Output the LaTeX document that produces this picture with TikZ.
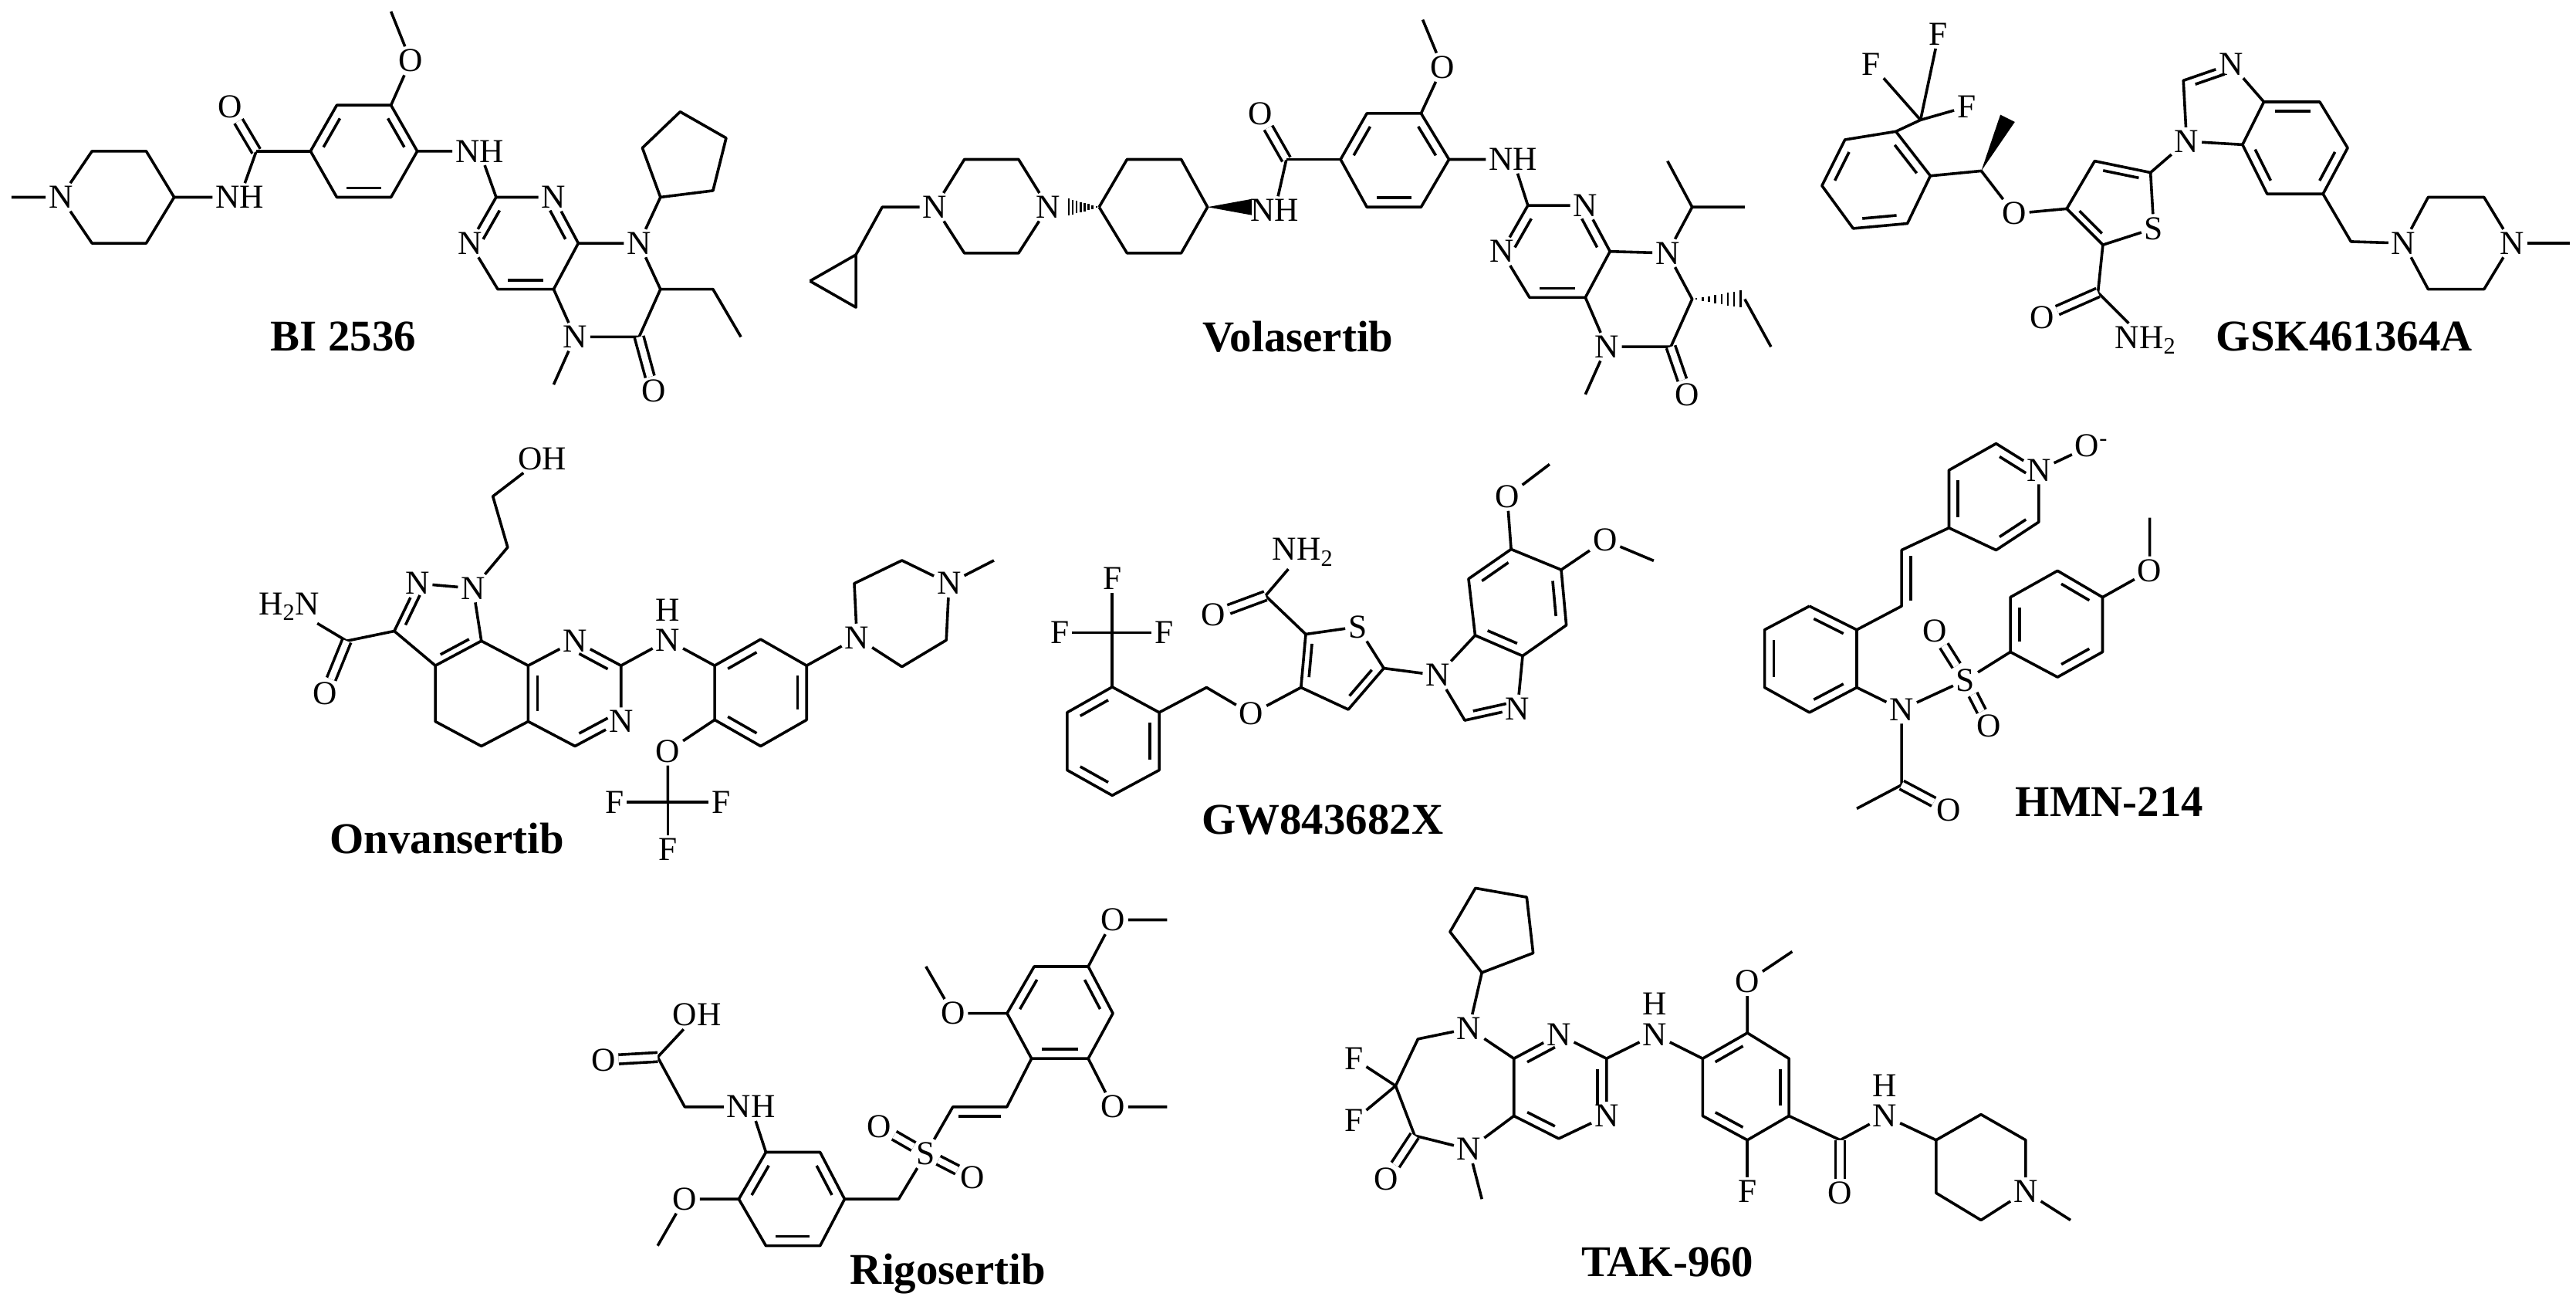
\documentclass[tikz,border=0pt]{standalone}
\usepackage{fontspec}
\setmainfont{Liberation Serif}
\usetikzlibrary{calc}
\newcommand\C[2]{\coordinate (#1) at (#2);}
\newcommand\A[3]{\node[atom] (#1) at (#2) {#3};}
\newcommand\ib[3]{\draw[shorten <=4pt,shorten >=4pt] ($(#1)!0.2!(#3)$)--($(#2)!0.2!(#3)$);}
\newcommand\dd[2]{\draw[double,double distance=5.5pt] (#1)--(#2);}
\newcommand\sd[2]{\draw[shorten <=5pt,shorten >=5pt] ($(#1)!8pt!90:(#2)$)--($(#2)!8pt!-90:(#1)$);}
\newcommand\hsh[2]{\foreach \t in {0.08,0.2,...,0.95}{\draw[line width=1.6pt] ($($(#1)!\t!(#2)$)!{\t*8pt}!90:(#2)$)--($($(#1)!\t!(#2)$)!{\t*8pt}!-90:(#2)$);}}
\newcommand\wdg[2]{\fill (#1)--($(#2)!7pt!90:(#1)$)--($(#2)!7pt!-90:(#1)$)--cycle;}
\begin{document}
\begin{tikzpicture}[x=0.5mm,y=-0.5mm,line width=2.4pt,line join=round,
 atom/.style={font=\fontsize{29}{29}\selectfont,inner sep=1.5pt},
 ttl/.style={font=\fontsize{38}{38}\selectfont\bfseries}]
\useasboundingbox (0,0) rectangle (1568,795);
% ===== BI 2536 =====
\C{c1a}{7,120}\A{a1}{37,120}{N}\C{a2}{56,92}\C{a3}{89,92}\C{a4}{106,120}\C{a5}{89,148}\C{a6}{56,148}
\A{a7}{146,120}{NH}\C{a8}{156,92}\A{a9}{140,65}{O}
\C{b1}{189,92}\C{b2}{205,64}\C{b3}{238,64}\C{b4}{254,92}\C{b5}{238,120}\C{b6}{205,120}\C{bc}{221.5,92}
\A{b7}{250,37}{O}\C{b8}{238,7}\A{b9}{292,92}{NH}
\C{p1}{302,120}\A{p2}{337,120}{N}\C{p3}{352,148}\C{p4}{337,176}\C{p5}{303,176}\A{p6}{286,148}{N}\C{pc}{319.5,148}
\A{p7}{389,148}{N}\C{p8}{402,176}\C{p9}{389,205}\A{p10}{398,238}{O}\A{p11}{350,205}{N}\C{p12}{337,234}
\C{p13}{434,176}\C{p14}{451,205}
\C{q1}{402,120}\C{q2}{434,116}\C{q3}{442,84}\C{q4}{414,68}\C{q5}{391,90}
\draw (c1a)--(a1)--(a2)--(a3)--(a4)--(a5)--(a6)--(a1);
\draw (a4)--(a7)--(a8); \dd{a8}{a9} \draw (a8)--(b1);
\draw (b1)--(b2)--(b3)--(b4)--(b5)--(b6)--(b1); \ib{b1}{b2}{bc}\ib{b3}{b4}{bc}\ib{b5}{b6}{bc}
\draw (b3)--(b7)--(b8); \draw (b4)--(b9)--(p1);
\draw (p1)--(p2)--(p3)--(p4)--(p5)--(p6)--(p1); \ib{p1}{p6}{pc}\ib{p2}{p3}{pc}\ib{p4}{p5}{pc}
\draw (p3)--(p7)--(q1)--(q2)--(q3)--(q4)--(q5)--(q1);
\draw (p7)--(p8)--(p13)--(p14); \draw (p8)--(p9)--(p11)--(p4); \dd{p9}{p10} \draw (p11)--(p12);
\node[ttl] (t1) at (209,205) {BI 2536};
% ===== Volasertib =====
\C{r1}{493,171}\C{r2}{521,155}\C{r3}{521,187}\C{r4}{537,126}
\A{v1}{569,126}{N}\C{v2}{587,97}\C{v3}{620,97}\A{v4}{638,126}{N}\C{v5}{620,154}\C{v6}{587,154}\C{v4e}{649,126}
\C{w1}{669,126}\C{w2}{686,97}\C{w3}{719,97}\C{w4}{735,126}\C{w5}{719,154}\C{w6}{686,154}
\A{w7}{776,128}{NH}\C{w7e}{762,126}\C{w8}{783,97}\A{w9}{767,69}{O}
\C{x1}{816,97}\C{x2}{832,69}\C{x3}{865,69}\C{x4}{882,97}\C{x5}{865,126}\C{x6}{832,126}\C{xc}{849,97}
\A{x7}{878,41}{O}\C{x8}{866,12}\A{x9}{921,97}{NH}
\C{vp1}{930,125}\A{vp2}{965,125}{N}\C{vp3}{980,153}\C{vp4}{965,181}\C{vp5}{931,181}\A{vp6}{914,153}{N}\C{vpc}{947.5,153}
\A{vn8}{1015,154}{N}\C{vi1}{1030,126}\C{vi2}{1062,126}\C{vi3}{1015,98}
\C{v7}{1030,182}\C{v7a}{1062,182}\C{v7b}{1078,211}
\C{v6c}{1017,211}\A{v6o}{1027,240}{O}\A{vn5}{978,211}{N}\C{vme}{965,240}
\draw (r1)--(r2)--(r3)--(r1); \draw (r2)--(r4)--(v1);
\draw (v1)--(v2)--(v3)--(v4)--(v5)--(v6)--(v1);
\hsh{w1}{v4e}
\draw (w1)--(w2)--(w3)--(w4)--(w5)--(w6)--(w1);
\wdg{w4}{w7e}
\draw (w7)--(w8); \dd{w8}{w9} \draw (w8)--(x1);
\draw (x1)--(x2)--(x3)--(x4)--(x5)--(x6)--(x1); \ib{x1}{x2}{xc}\ib{x3}{x4}{xc}\ib{x5}{x6}{xc}
\draw (x3)--(x7)--(x8); \draw (x4)--(x9)--(vp1);
\draw (vp1)--(vp2)--(vp3)--(vp4)--(vp5)--(vp6)--(vp1); \ib{vp1}{vp6}{vpc}\ib{vp2}{vp3}{vpc}\ib{vp4}{vp5}{vpc}
\draw (vp3)--(vn8)--(vi1)--(vi2); \draw (vi1)--(vi3);
\draw (vn8)--(v7)--(v6c)--(vn5)--(vp4); \dd{v6c}{v6o} \draw (vn5)--(vme);
\hsh{v7}{v7a} \draw (v7a)--(v7b);
\node[ttl] (t2) at (790,205) {Volasertib};
% ===== GSK461364A =====
\C{g1}{1169,73}\A{g2}{1180,21}{F}\A{g3}{1139,39}{F}\A{g4}{1197,65}{F}
\C{g5}{1154,80}\C{g6}{1123,85}\C{g7}{1109,113}\C{g8}{1128,139}\C{g9}{1161,136}\C{g10}{1175,107}\C{gc}{1142,110}
\C{g11}{1206,104}\C{g12}{1222,72}\A{g13}{1226,130}{O}
\C{t1}{1258,127}\C{t2}{1275,98}\C{t3}{1309,105}\A{t4}{1311,139}{S}\C{t5}{1280,149}\C{tc}{1287,124}
\C{t6}{1277,178}\A{t7}{1243,193}{O}\A{t8}{1306,207}{NH\textsubscript{2}}
\A{i1}{1331,86}{N}\C{i2}{1329,49}\A{i3}{1358,39}{N}\C{i4}{1378,62}\C{i5}{1365,88}\C{ic}{1352,65}
\C{i6}{1412,62}\C{i7}{1429,90}\C{i8}{1414,118}\C{i9}{1380,118}\C{jc}{1397,90}
\C{i10}{1431,147}\A{k1}{1463,148}{N}\C{k2}{1478,120}\C{k3}{1512,120}\A{k4}{1529,148}{N}\C{k5}{1512,176}\C{k6}{1478,176}\C{k7}{1564,148}
\draw (g1)--(g2); \draw (g1)--(g3); \draw (g1)--(g4); \draw (g1)--(g5);
\draw (g5)--(g6)--(g7)--(g8)--(g9)--(g10)--(g5); \ib{g6}{g7}{gc}\ib{g8}{g9}{gc}\ib{g5}{g10}{gc}
\draw (g10)--(g11)--(g13)--(t1); \wdg{g11}{g12}
\draw (t1)--(t2)--(t3)--(t4)--(t5)--(t1); \ib{t1}{t5}{tc}\ib{t2}{t3}{tc}
\draw (t5)--(t6)--(t8); \dd{t6}{t7}
\draw (t3)--(i1)--(i2)--(i3)--(i4)--(i5)--(i1); \ib{i2}{i3}{ic}
\draw (i4)--(i6)--(i7)--(i8)--(i9)--(i5); \ib{i4}{i6}{jc}\ib{i7}{i8}{jc}\ib{i9}{i5}{jc}
\draw (i8)--(i10)--(k1)--(k2)--(k3)--(k4)--(k5)--(k6)--(k1); \draw (k4)--(k7);
\node[ttl] (t3l) at (1427,205) {GSK461364A};
% ===== Onvansertib =====
\A{o1}{330,279}{OH}\C{o2}{300,302}\C{o3}{309,333}\A{o4}{288,358}{N}\A{o5}{254,355}{N}
\C{o6}{240,384}\C{o7}{265,405}\C{o8}{293,390}\C{oc}{268,378}
\C{o9}{211,390}\A{o10}{198,422}{O}\A{o11}{176,369}{H\textsubscript{2}N}
\C{o12}{265,439}\C{o13}{293,454}\C{o14}{321.5,439}\C{o15}{321.5,405}
\A{o16}{350,390}{N}\C{o17}{378,405}\A{o18}{378,439}{N}\C{o19}{350,454}\C{oc2}{350,422}
\A{o20}{406.5,389.5}{N}\node[atom] (o20h) at (406.5,371) {H};
\C{o21}{435,405}\C{o22}{463,389}\C{o23}{491,405}\C{o24}{491,438}\C{o25}{463,454}\C{o26}{435,438}\C{oc3}{463,421.5}
\A{o27}{521.6,388}{N}\C{o28}{520,355}\C{o29}{549,341}\A{o30}{577.7,355}{N}\C{o31}{576,389.5}\C{o32}{549,405.7}\C{o33}{605,341}
\A{o34}{406.5,457}{O}\C{o35}{406.5,488}\A{o36}{374,488}{F}\A{o37}{439,488}{F}\A{o38}{406.5,517}{F}
\draw (o1)--(o2)--(o3)--(o4)--(o5)--(o6)--(o7)--(o8)--(o4); \ib{o5}{o6}{oc}\ib{o7}{o8}{oc}
\draw (o6)--(o9)--(o11); \dd{o9}{o10}
\draw (o7)--(o12)--(o13)--(o14)--(o15)--(o8);
\draw (o15)--(o16)--(o17)--(o18)--(o19)--(o14); \ib{o16}{o17}{oc2}\ib{o18}{o19}{oc2}\ib{o14}{o15}{oc2}
\draw (o17)--(o20)--(o21);
\draw (o21)--(o22)--(o23)--(o24)--(o25)--(o26)--(o21); \ib{o21}{o22}{oc3}\ib{o23}{o24}{oc3}\ib{o25}{o26}{oc3}
\draw (o23)--(o27)--(o28)--(o29)--(o30)--(o31)--(o32)--(o27); \draw (o30)--(o33);
\draw (o26)--(o34)--(o35); \draw (o35)--(o36); \draw (o35)--(o37); \draw (o35)--(o38);
\node[ttl] (t4) at (272,510) {Onvansertib};
% ===== GW843682X =====
\C{m1}{677,418}\C{m2}{649.6,433.5}\C{m3}{649.6,468.6}\C{m4}{677,484}\C{m5}{705.6,468.6}\C{m6}{705.6,433.5}\C{mc}{677,451}
\C{m7}{677,385}\A{m8}{677,352}{F}\A{m9}{645,385}{F}\A{m10}{708.5,385}{F}
\C{m11}{734.4,418.3}\A{m12}{761.7,434.4}{O}
\C{n1}{791.9,418.3}\C{n2}{820.7,431.7}\C{n3}{842.3,406.6}\A{n4}{826.4,381.4}{S}\C{n5}{794.8,385.9}\C{nc}{815,401}
\C{n6}{770.3,362.5}\A{n7}{738.7,374.2}{O}\A{n8}{793,336}{NH\textsubscript{2}}
\A{h1}{875.2,410.9}{N}\C{h2}{891.6,438.3}\A{h3}{923.7,431.2}{N}\C{h4}{926.8,399.1}\C{h5}{897.9,386.6}\C{hc}{903,413}
\C{h6}{893.9,352.2}\C{h7}{919.8,334.2}\C{h8}{950.3,346.7}\C{h9}{953.4,380.4}\C{hc2}{923,366.6}
\A{h10}{917.4,302.1}{O}\C{h11}{943.2,282.5}\A{h12}{976.9,328.7}{O}\C{h13}{1006.6,341.2}
\draw (m1)--(m2)--(m3)--(m4)--(m5)--(m6)--(m1); \ib{m1}{m2}{mc}\ib{m3}{m4}{mc}\ib{m5}{m6}{mc}
\draw (m1)--(m7); \draw (m7)--(m8); \draw (m7)--(m9); \draw (m7)--(m10);
\draw (m6)--(m11)--(m12)--(n1);
\draw (n1)--(n2)--(n3)--(n4)--(n5)--(n1); \ib{n1}{n5}{nc}\ib{n2}{n3}{nc}
\draw (n5)--(n6)--(n8); \dd{n6}{n7}
\draw (n3)--(h1)--(h2)--(h3)--(h4)--(h5)--(h1); \ib{h2}{h3}{hc}
\draw (h5)--(h6)--(h7)--(h8)--(h9)--(h4); \ib{h6}{h7}{hc2}\ib{h8}{h9}{hc2}\ib{h5}{h4}{hc2}
\draw (h7)--(h10)--(h11); \draw (h8)--(h12)--(h13);
\node[ttl] (t5) at (805,499) {GW843682X};
% ===== HMN-214 =====
\C{e1}{1101.4,368.8}\C{e2}{1074.1,383.2}\C{e3}{1074.1,418.3}\C{e4}{1101.4,433.5}\C{e5}{1130.2,418.3}\C{e6}{1130.2,383.2}\C{ec}{1102,401}
\C{e7}{1157.5,368.8}\C{e8}{1157.5,334.7}
\C{f1}{1186.3,321.2}\C{f2}{1186.3,286.1}\C{f3}{1215,269.9}\A{f4}{1241,286.1}{N}\C{f5}{1241,317.6}\C{f6}{1215,334.7}\C{fc}{1213.6,302.3}
\A{f7}{1273,271}{O\textsuperscript{-}}
\A{e9}{1157.5,431.7}{N}\A{e10}{1196.4,413.8}{S}\A{e11}{1177.7,384.1}{O}\A{e12}{1210.7,441.6}{O}
\C{e13}{1223.7,396.7}\C{e14}{1223.7,363.4}\C{e15}{1252.4,347.3}\C{e16}{1279.8,363.4}\C{e17}{1279.8,396.7}\C{e18}{1252.4,412}\C{ec2}{1251.7,380}
\A{e19}{1308.5,347.3}{O}\C{e20}{1308.5,315}
\C{e21}{1157.5,477.6}\C{e22}{1130.2,492}\A{e23}{1186.3,492.9}{O}
\draw (e1)--(e2)--(e3)--(e4)--(e5)--(e6)--(e1); \ib{e1}{e6}{ec}\ib{e2}{e3}{ec}\ib{e4}{e5}{ec}
\draw (e6)--(e7)--(e8)--(f1); \sd{e8}{e7}
\draw (f1)--(f2)--(f3)--(f4)--(f5)--(f6)--(f1); \ib{f1}{f2}{fc}\ib{f3}{f4}{fc}\ib{f5}{f6}{fc}
\draw (f4)--(f7);
\draw (e5)--(e9)--(e10)--(e13); \dd{e10}{e11}\dd{e10}{e12}
\draw (e13)--(e14)--(e15)--(e16)--(e17)--(e18)--(e13); \ib{e13}{e14}{ec2}\ib{e15}{e16}{ec2}\ib{e17}{e18}{ec2}
\draw (e16)--(e19)--(e20);
\draw (e9)--(e21)--(e22); \dd{e21}{e23}
\node[ttl] (t6) at (1284,488) {HMN-214};
% ===== Rigosertib =====
\A{s1}{424.3,617.5}{OH}\C{s2}{400.3,643.2}\A{s3}{367.3,645.1}{O}\C{s4}{416.8,673.5}\A{s5}{457.2,673.5}{NH}
\C{s6}{466.2,701.1}\C{s7}{499.2,701.1}\C{s8}{514.1,729.6}\C{s9}{499.2,758}\C{s10}{466.2,758}\C{s11}{449.7,729.6}\C{sc}{482,729.6}
\A{s12}{416.7,729.6}{O}\C{s13}{400.3,758}
\C{s14}{547,729.6}\A{s15}{563.6,702}{S}\A{s16}{535,685.5}{O}\A{s17}{592,716.7}{O}
\C{s18}{580,673.5}\C{s19}{612.9,673.5}
\C{u1}{627.9,644.1}\C{u2}{613,616.6}\C{u3}{629.5,588.1}\C{u4}{662.4,588.1}\C{u5}{677.4,616.6}\C{u6}{662.4,644.1}\C{uc}{645,616}
\A{u7}{580,616.6}{O}\C{u8}{563.6,588.1}\A{u9}{677.4,559.7}{O}\C{u10}{710.4,559.7}\A{u11}{677.4,673.5}{O}\C{u12}{710.4,673.5}
\draw (s1)--(s2)--(s4)--(s5)--(s6); \dd{s2}{s3}
\draw (s6)--(s7)--(s8)--(s9)--(s10)--(s11)--(s6); \ib{s6}{s11}{sc}\ib{s7}{s8}{sc}\ib{s9}{s10}{sc}
\draw (s11)--(s12)--(s13);
\draw (s8)--(s14)--(s15)--(s18)--(s19)--(u1); \dd{s15}{s16}\dd{s15}{s17} \sd{s19}{s18}
\draw (u1)--(u2)--(u3)--(u4)--(u5)--(u6)--(u1); \ib{u1}{u6}{uc}\ib{u2}{u3}{uc}\ib{u4}{u5}{uc}
\draw (u2)--(u7)--(u8); \draw (u4)--(u9)--(u10); \draw (u6)--(u11)--(u12);
\node[ttl] (t7) at (577,775) {Rigosertib};
% ===== TAK-960 =====
\C{y1}{902,591.8}\C{y2}{933.2,579.9}\C{y3}{929.3,545.9}\C{y4}{898.1,540.4}\C{y5}{882.6,567}
\A{y6}{894.2,625.8}{N}\C{y7}{863.1,632.2}\C{y8}{849.5,660.7}\A{y9}{824.1,644.1}{F}\A{y10}{824.1,681.8}{F}
\C{y11}{861.1,691}\A{y12}{843.6,717.6}{O}\A{y13}{894.2,699.3}{N}\C{y14}{902,729.6}
\C{z1}{921.5,644.1}\A{z2}{948.8,629.5}{N}\C{z3}{977.9,644.1}\A{z4}{977.9,679}{N}\C{z5}{948.8,692.8}\C{z6}{921.5,679}\C{zc}{949.7,661.5}
\A{z7}{1007.2,629.5}{N}\node[atom] (z7h) at (1007.2,611) {H};
\C{z8}{1036.4,644.1}\C{z9}{1063.6,628.5}\C{z10}{1088.9,644.1}\C{z11}{1088.9,679}\C{z12}{1063.6,693.7}\C{z13}{1036.4,679}\C{zc2}{1062.6,661.5}
\A{z14}{1063.6,597.3}{O}\C{z15}{1090.9,579}\A{z16}{1063.6,725}{F}
\C{z17}{1120.1,693.7}\A{z18}{1120.1,726}{O}\A{z19}{1147.3,679}{N}\node[atom] (z19h) at (1147.3,660.5) {H};
\C{z20}{1178.5,693.7}\C{z21}{1205.8,678.1}\C{z22}{1233,693.7}\A{z23}{1233,725}{N}\C{z24}{1205.8,742.4}\C{z25}{1178.5,725.9}\C{z26}{1260.3,742.4}
\draw (y1)--(y2)--(y3)--(y4)--(y5)--(y1); \draw (y1)--(y6);
\draw (y6)--(y7)--(y8)--(y11)--(y13)--(z6); \draw (y6)--(z1); \draw (y8)--(y9); \draw (y8)--(y10); \dd{y11}{y12} \draw (y13)--(y14);
\draw (z1)--(z2)--(z3)--(z4)--(z5)--(z6)--(z1); \ib{z1}{z2}{zc}\ib{z3}{z4}{zc}\ib{z5}{z6}{zc}
\draw (z3)--(z7)--(z8);
\draw (z8)--(z9)--(z10)--(z11)--(z12)--(z13)--(z8); \ib{z8}{z9}{zc2}\ib{z10}{z11}{zc2}\ib{z12}{z13}{zc2}
\draw (z9)--(z14)--(z15); \draw (z12)--(z16);
\draw (z11)--(z17)--(z19)--(z20); \dd{z17}{z18}
\draw (z20)--(z21)--(z22)--(z23)--(z24)--(z25)--(z20); \draw (z23)--(z26);
\node[ttl] (t8) at (1015,768) {TAK-960};
\end{tikzpicture}
\end{document}
